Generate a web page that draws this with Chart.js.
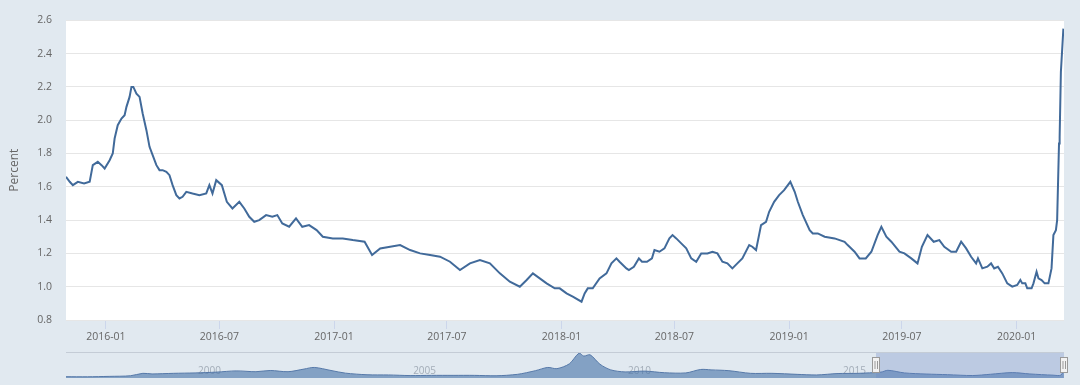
<!DOCTYPE html>
<html><head><meta charset="utf-8">
<script src="https://cdn.jsdelivr.net/npm/chart.js@4.4.1/dist/chart.umd.min.js"></script>
<style>
html,body{margin:0;padding:0;background:#e1e9f0;width:1080px;height:385px;overflow:hidden}
#main{position:absolute;left:0;top:0}
#nav{position:absolute;left:0;top:345px}
</style></head><body>
<canvas id="main" width="1080" height="345"></canvas>
<canvas id="nav" width="1080" height="40"></canvas>
<script>
const dates = ['2015-10-29','2015-11-04','2015-11-09','2015-11-17','2015-11-27','2015-12-06','2015-12-11','2015-12-19','2015-12-25','2015-12-30',
'2016-01-07','2016-01-12','2016-01-15','2016-01-20','2016-01-26','2016-01-31','2016-02-03','2016-02-08','2016-02-11','2016-02-14','2016-02-19','2016-02-24','2016-02-29',
'2016-03-06','2016-03-11','2016-03-16','2016-03-22','2016-03-27','2016-04-01','2016-04-07','2016-04-12','2016-04-17','2016-04-23','2016-04-28','2016-05-03','2016-05-09','2016-05-19','2016-05-30',
'2016-06-10','2016-06-15','2016-06-20','2016-06-26','2016-07-05','2016-07-13','2016-07-22','2016-08-02','2016-08-10','2016-08-18','2016-08-26','2016-09-03','2016-09-14','2016-09-24',
'2016-10-02','2016-10-10','2016-10-21','2016-11-01','2016-11-11','2016-11-22','2016-12-04','2016-12-14','2016-12-30','2017-01-15','2017-01-31','2017-02-19','2017-03-03','2017-03-16',
'2017-04-01','2017-04-17','2017-05-03','2017-05-19','2017-06-04','2017-06-20','2017-07-06','2017-07-22','2017-08-07','2017-08-23','2017-09-08','2017-09-24','2017-10-10','2017-10-26',
'2017-11-06','2017-11-16','2017-11-27','2017-12-08','2017-12-21','2017-12-29','2018-01-09','2018-01-19','2018-02-02','2018-02-07','2018-02-12','2018-02-20','2018-03-03','2018-03-14',
'2018-03-22','2018-03-30','2018-04-04','2018-04-15','2018-04-19','2018-04-27','2018-05-05','2018-05-10','2018-05-18','2018-05-26','2018-05-30','2018-06-07','2018-06-15','2018-06-23',
'2018-06-28','2018-07-04','2018-07-12','2018-07-20','2018-07-28','2018-08-05','2018-08-13','2018-08-23','2018-08-31','2018-09-08','2018-09-16','2018-09-24','2018-10-02','2018-10-10',
'2018-10-18','2018-10-29','2018-11-03','2018-11-09','2018-11-17','2018-11-25','2018-11-30','2018-12-08','2018-12-16','2018-12-24','2019-01-03','2019-01-10','2019-01-15','2019-01-23',
'2019-02-03','2019-02-08','2019-02-16','2019-02-27','2019-03-15','2019-03-31','2019-04-05','2019-04-16','2019-04-24','2019-05-04','2019-05-13','2019-05-23','2019-05-29','2019-06-06',
'2019-06-14','2019-06-27','2019-07-05','2019-07-16','2019-07-26','2019-08-02','2019-08-11','2019-08-21','2019-08-30','2019-09-07','2019-09-18','2019-09-26','2019-10-04','2019-10-12',
'2019-10-20','2019-10-28','2019-10-31','2019-11-07','2019-11-15','2019-11-21','2019-11-26','2019-12-02','2019-12-09','2019-12-17','2019-12-25','2020-01-02','2020-01-07','2020-01-10',
'2020-01-15','2020-01-18','2020-01-25','2020-01-28','2020-02-02','2020-02-05','2020-02-10','2020-02-15','2020-02-21','2020-02-26','2020-02-29','2020-03-04','2020-03-06','2020-03-09',
'2020-03-10','2020-03-12','2020-03-16'];
const values = [1.66,1.63,1.61,1.63,1.62,1.63,1.73,1.75,1.73,1.71,
1.76,1.80,1.89,1.97,2.01,2.03,2.08,2.14,2.20,2.20,2.16,2.14,2.04,
1.94,1.84,1.79,1.73,1.70,1.70,1.69,1.67,1.61,1.55,1.53,1.54,1.57,1.56,1.55,
1.56,1.61,1.56,1.64,1.61,1.51,1.47,1.51,1.47,1.42,1.39,1.40,1.43,1.42,
1.43,1.38,1.36,1.41,1.36,1.37,1.34,1.30,1.29,1.29,1.28,1.27,1.19,1.23,
1.24,1.25,1.22,1.20,1.19,1.18,1.15,1.10,1.14,1.16,1.14,1.08,1.03,1.00,
1.04,1.08,1.05,1.02,0.99,0.99,0.96,0.94,0.91,0.96,0.99,0.99,1.05,1.08,
1.14,1.17,1.15,1.11,1.10,1.12,1.17,1.15,1.15,1.17,1.22,1.21,1.23,1.29,
1.31,1.29,1.26,1.23,1.17,1.15,1.20,1.20,1.21,1.20,1.15,1.14,1.11,1.14,
1.17,1.25,1.24,1.22,1.37,1.39,1.45,1.51,1.55,1.58,1.63,1.57,1.51,1.43,
1.34,1.32,1.32,1.30,1.29,1.27,1.25,1.21,1.17,1.17,1.21,1.31,1.36,1.30,
1.27,1.21,1.20,1.17,1.14,1.24,1.31,1.27,1.28,1.24,1.21,1.21,1.27,1.23,
1.18,1.14,1.17,1.11,1.12,1.14,1.11,1.12,1.08,1.02,1.00,1.01,1.04,1.02,
1.02,0.99,0.99,1.02,1.09,1.05,1.04,1.02,1.02,1.11,1.31,1.34,1.40,1.86,
1.90,2.29,2.55];
const xStart = '2015-10-29', xEnd = '2020-03-17';
const tickDates = ['2016-01-01','2016-07-01','2017-01-01','2017-07-01','2018-01-01','2018-07-01','2019-01-01','2019-07-01','2020-01-01'];
const tickLabels = ['2016-01','2016-07','2017-01','2017-07','2018-01','2018-07','2019-01','2019-07','2020-01'];
const yTicks = [0.8,1.0,1.2,1.4,1.6,1.8,2.0,2.2,2.4,2.6];
const yTitle = 'Percent';

const navDates = ['1996-12-31','1997-07-01','1998-01-01','1998-07-01','1998-10-15','1999-01-01','1999-07-01','2000-01-01','2000-07-01','2000-12-15','2001-06-01','2001-10-01','2002-03-01','2002-07-15','2002-10-10','2003-03-01','2003-07-01','2004-01-01','2004-07-01','2005-01-01','2005-07-01','2006-01-01','2006-07-01','2007-01-01','2007-07-01','2007-12-01','2008-03-15','2008-06-01','2008-09-15','2008-12-05','2009-01-15','2009-03-10','2009-06-01','2009-09-01','2010-01-01','2010-06-15','2010-12-01','2011-06-01','2011-10-05','2012-01-01','2012-06-01','2012-12-01','2013-06-01','2014-01-01','2014-06-15','2014-12-15','2015-06-01','2015-12-15','2016-02-11','2016-07-01','2017-01-01','2017-07-01','2018-02-01','2018-07-01','2019-01-03','2019-06-01','2019-12-15','2020-02-20','2020-03-16'];
const navValues = [0.62,0.60,0.70,0.85,1.45,1.30,1.45,1.55,1.75,2.05,1.85,2.15,1.85,2.50,2.90,2.15,1.50,1.10,1.05,0.90,0.95,0.95,0.95,0.85,1.20,2.10,2.90,2.60,3.80,6.40,5.70,6.00,3.70,2.30,1.80,2.00,1.60,1.55,2.40,2.30,2.10,1.45,1.45,1.20,1.05,1.40,1.45,1.75,2.20,1.55,1.28,1.12,0.91,1.22,1.63,1.30,1.00,1.02,2.55];
const navTickDates = ['2000-01-01','2005-01-01','2010-01-01','2015-01-01'];
const navTickLabels = ['2000','2005','2010','2015'];

const ts = s => Date.UTC(+s.slice(0,4), +s.slice(5,7)-1, +s.slice(8,10));
const FONT = '"Open Sans", "DejaVu Sans", sans-serif';
const LINE = '#416a9a';

const whiteArea = {
  id:'whiteArea',
  beforeDraw(c){ const a=c.chartArea, ctx=c.ctx; ctx.save(); ctx.fillStyle='#ffffff'; ctx.fillRect(a.left,a.top,a.right-a.left,a.bottom-a.top); ctx.restore(); }
};

new Chart(document.getElementById('main'), {
  type:'line',
  data:{ datasets:[{ data: dates.map((d,i)=>({x:ts(d), y:values[i]})), borderColor:LINE, borderWidth:2, pointRadius:0, tension:0, fill:false }]},
  options:{
    responsive:false, animation:false, devicePixelRatio:1,
    layout:{ padding:{ left:0, right:16, top:15, bottom:0 } },
    plugins:{ legend:{display:false}, tooltip:{enabled:false} },
    scales:{
      x:{ type:'linear', min:ts(xStart), max:ts(xEnd),
        afterBuildTicks: s => { s.ticks = tickDates.map(d=>({value:ts(d)})); },
        afterFit: s => { s.height = 25; },
        ticks:{ autoSkip:false, maxRotation:0, minRotation:0, padding:2, color:'#666666', font:{family:FONT, size:10.5},
          callback:(v,i)=>tickLabels[i] },
        grid:{ drawOnChartArea:false, drawTicks:true, tickLength:9, color:'#ccd6eb' },
        border:{ display:false }
      },
      y:{ min:0.8, max:2.6,
        afterBuildTicks: s => { s.ticks = yTicks.map(v=>({value:v})); },
        afterFit: s => { s.width = 66; },
        ticks:{ padding:14, color:'#666666', font:{family:FONT, size:10.5}, callback:v=>v.toFixed(1) },
        grid:{ color:'#e6e6e6', drawTicks:false },
        border:{ display:false },
        title:{ display:true, text:yTitle, color:'#666666', font:{family:FONT, size:12}, padding:{top:7,bottom:0} }
      }
    }
  },
  plugins:[whiteArea]
});

const navPlugin = {
  id:'navDeco',
  beforeDatasetsDraw(c){
    const ctx=c.ctx, a=c.chartArea, x=c.scales.x;
    ctx.save();
    ctx.font = '10px '+FONT; ctx.fillStyle='#a3adb8'; ctx.textAlign='left'; ctx.textBaseline='alphabetic';
    navTickDates.forEach((d,i)=>{ const px=x.getPixelForValue(ts(d)); ctx.fillText(navTickLabels[i], px+3, a.bottom-4); });
    ctx.restore();
  },
  afterDatasetsDraw(c){
    const ctx=c.ctx, a=c.chartArea, x=c.scales.x;
    const x0=Math.round(x.getPixelForValue(ts(xStart))), x1=Math.round(x.getPixelForValue(ts(xEnd)));
    ctx.save();
    ctx.fillStyle='rgba(102,133,194,0.3)';
    ctx.fillRect(x0, a.top, x1-x0, a.bottom-a.top);
    ctx.strokeStyle='#c4ccd6'; ctx.lineWidth=1;
    ctx.beginPath(); ctx.moveTo(a.left, a.top+0.5); ctx.lineTo(a.right, a.top+0.5); ctx.stroke();
    const yc=(a.top+a.bottom)/2;
    [x0,x1].forEach(px=>{
      ctx.fillStyle='#f2f2f2'; ctx.strokeStyle='#999999';
      ctx.fillRect(px-3.5, yc-7.5, 7, 15); ctx.strokeRect(px-3.5, yc-7.5, 7, 15);
      ctx.beginPath(); ctx.moveTo(px-1,yc-4); ctx.lineTo(px-1,yc+4); ctx.moveTo(px+1.5,yc-4); ctx.lineTo(px+1.5,yc+4); ctx.stroke();
    });
    ctx.restore();
  }
};

new Chart(document.getElementById('nav'), {
  type:'line',
  data:{ datasets:[{ data: navDates.map((d,i)=>({x:ts(d), y:navValues[i]})), borderColor:'#5578a8', borderWidth:1, backgroundColor:'rgba(69,114,167,0.6)', pointRadius:0, tension:0.3, fill:'start' }]},
  options:{
    responsive:false, animation:false, devicePixelRatio:1,
    layout:{ padding:{ left:66, right:16, top:7, bottom:7 } },
    plugins:{ legend:{display:false}, tooltip:{enabled:false} },
    scales:{
      x:{ type:'linear', display:false, min:ts('1996-12-31'), max:ts(xEnd) },
      y:{ display:false, min:0.3, max:6.7 }
    }
  },
  plugins:[navPlugin]
});
</script>
</body></html>
